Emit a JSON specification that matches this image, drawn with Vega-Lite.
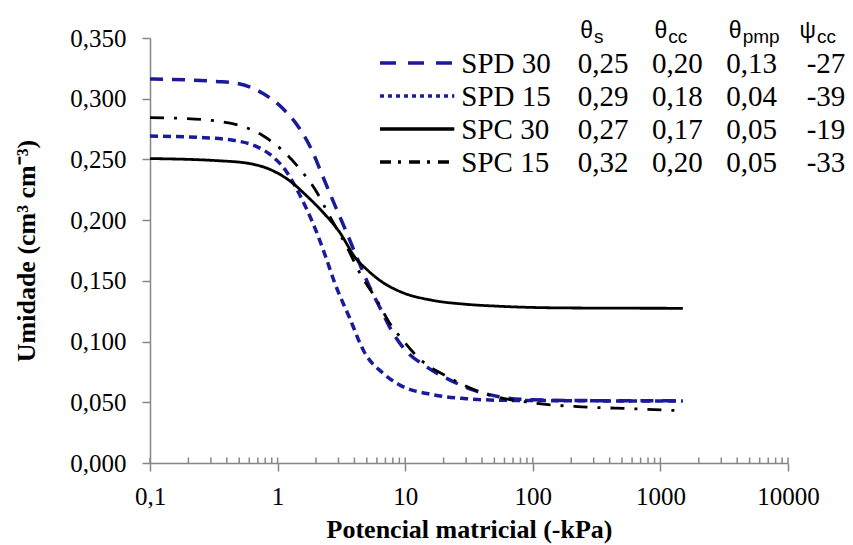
{
  "$schema": "https://vega.github.io/schema/vega-lite/v6.json",
  "width": 638,
  "height": 425,
  "autosize": "none",
  "padding": {"left": 150, "top": 38, "right": 65, "bottom": 82},
  "background": "white",
  "config": {
    "view": {"stroke": null},
    "locale": {"number": {"decimal": ",", "thousands": ".", "grouping": [3], "currency": ["", ""], "minus": "-"}},
    "font": "Liberation Serif"
  },
  "datasets": {
    "curves": [
      {"series": "SPD 30", "x": 0.1, "y": 0.3163},
      {"series": "SPD 30", "x": 0.332, "y": 0.3142},
      {"series": "SPD 30", "x": 0.475, "y": 0.3128},
      {"series": "SPD 30", "x": 0.764, "y": 0.3045},
      {"series": "SPD 30", "x": 1.094, "y": 0.2921},
      {"series": "SPD 30", "x": 1.486, "y": 0.2755},
      {"series": "SPD 30", "x": 1.876, "y": 0.2565},
      {"series": "SPD 30", "x": 2.248, "y": 0.2366},
      {"series": "SPD 30", "x": 2.89, "y": 0.2093},
      {"series": "SPD 30", "x": 3.46, "y": 0.1903},
      {"series": "SPD 30", "x": 4.14, "y": 0.1704},
      {"series": "SPD 30", "x": 5.23, "y": 0.1456},
      {"series": "SPD 30", "x": 6.61, "y": 0.1241},
      {"series": "SPD 30", "x": 7.5, "y": 0.1125},
      {"series": "SPD 30", "x": 9.48, "y": 0.096},
      {"series": "SPD 30", "x": 14.6, "y": 0.0794},
      {"series": "SPD 30", "x": 22.1, "y": 0.0687},
      {"series": "SPD 30", "x": 33.4, "y": 0.0604},
      {"series": "SPD 30", "x": 54.2, "y": 0.0546},
      {"series": "SPD 30", "x": 98.2, "y": 0.0521},
      {"series": "SPD 30", "x": 241, "y": 0.0514},
      {"series": "SPD 30", "x": 593, "y": 0.0513},
      {"series": "SPD 30", "x": 1500, "y": 0.0513},
      {"series": "SPD 15", "x": 0.1, "y": 0.2692},
      {"series": "SPD 15", "x": 0.246, "y": 0.2681},
      {"series": "SPD 15", "x": 0.445, "y": 0.2658},
      {"series": "SPD 15", "x": 0.686, "y": 0.2606},
      {"series": "SPD 15", "x": 0.914, "y": 0.2524},
      {"series": "SPD 15", "x": 1.175, "y": 0.2399},
      {"series": "SPD 15", "x": 1.407, "y": 0.2259},
      {"series": "SPD 15", "x": 1.685, "y": 0.2093},
      {"series": "SPD 15", "x": 2.018, "y": 0.1903},
      {"series": "SPD 15", "x": 2.415, "y": 0.168},
      {"series": "SPD 15", "x": 2.79, "y": 0.1489},
      {"series": "SPD 15", "x": 3.65, "y": 0.12},
      {"series": "SPD 15", "x": 4.8, "y": 0.091},
      {"series": "SPD 15", "x": 6.61, "y": 0.0745},
      {"series": "SPD 15", "x": 8.98, "y": 0.0645},
      {"series": "SPD 15", "x": 16.3, "y": 0.0563},
      {"series": "SPD 15", "x": 30, "y": 0.053},
      {"series": "SPD 15", "x": 54.2, "y": 0.0517},
      {"series": "SPD 15", "x": 181, "y": 0.0513},
      {"series": "SPD 15", "x": 1500, "y": 0.051},
      {"series": "SPC 30", "x": 0.1, "y": 0.2507},
      {"series": "SPC 30", "x": 0.334, "y": 0.249},
      {"series": "SPC 30", "x": 0.604, "y": 0.2466},
      {"series": "SPC 30", "x": 0.914, "y": 0.2408},
      {"series": "SPC 30", "x": 1.241, "y": 0.2325},
      {"series": "SPC 30", "x": 1.685, "y": 0.2201},
      {"series": "SPC 30", "x": 2.248, "y": 0.2069},
      {"series": "SPC 30", "x": 3.05, "y": 0.1903},
      {"series": "SPC 30", "x": 4.14, "y": 0.168},
      {"series": "SPC 30", "x": 4.96, "y": 0.1597},
      {"series": "SPC 30", "x": 6.61, "y": 0.149},
      {"series": "SPC 30", "x": 9.2, "y": 0.141},
      {"series": "SPC 30", "x": 16.3, "y": 0.134},
      {"series": "SPC 30", "x": 30, "y": 0.1307},
      {"series": "SPC 30", "x": 54.2, "y": 0.1291},
      {"series": "SPC 30", "x": 181, "y": 0.1277},
      {"series": "SPC 30", "x": 1500, "y": 0.1274},
      {"series": "SPC 15", "x": 0.1, "y": 0.2844},
      {"series": "SPC 15", "x": 0.181, "y": 0.2838},
      {"series": "SPC 15", "x": 0.334, "y": 0.2816},
      {"series": "SPC 15", "x": 0.533, "y": 0.2772},
      {"series": "SPC 15", "x": 0.764, "y": 0.2697},
      {"series": "SPC 15", "x": 1.094, "y": 0.2573},
      {"series": "SPC 15", "x": 1.486, "y": 0.2424},
      {"series": "SPC 15", "x": 2.018, "y": 0.2234},
      {"series": "SPC 15", "x": 2.55, "y": 0.2035},
      {"series": "SPC 15", "x": 3.46, "y": 0.1787},
      {"series": "SPC 15", "x": 4.37, "y": 0.1572},
      {"series": "SPC 15", "x": 5.93, "y": 0.1349},
      {"series": "SPC 15", "x": 7.5, "y": 0.1158},
      {"series": "SPC 15", "x": 9.48, "y": 0.1018},
      {"series": "SPC 15", "x": 12.4, "y": 0.0877},
      {"series": "SPC 15", "x": 22.1, "y": 0.0703},
      {"series": "SPC 15", "x": 40, "y": 0.0579},
      {"series": "SPC 15", "x": 98.2, "y": 0.0496},
      {"series": "SPC 15", "x": 241, "y": 0.0463},
      {"series": "SPC 15", "x": 593, "y": 0.0447},
      {"series": "SPC 15", "x": 1500, "y": 0.043}
    ],
    "ticks": [
      {"x": 0.1}, {"x": 0.2}, {"x": 0.3}, {"x": 0.4}, {"x": 0.5}, {"x": 0.6}, {"x": 0.7}, {"x": 0.8}, {"x": 0.9},
      {"x": 1}, {"x": 2}, {"x": 3}, {"x": 4}, {"x": 5}, {"x": 6}, {"x": 7}, {"x": 8}, {"x": 9},
      {"x": 10}, {"x": 20}, {"x": 30}, {"x": 40}, {"x": 50}, {"x": 60}, {"x": 70}, {"x": 80}, {"x": 90},
      {"x": 100}, {"x": 200}, {"x": 300}, {"x": 400}, {"x": 500}, {"x": 600}, {"x": 700}, {"x": 800}, {"x": 900},
      {"x": 1000}, {"x": 2000}, {"x": 3000}, {"x": 4000}, {"x": 5000}, {"x": 6000}, {"x": 7000}, {"x": 8000}, {"x": 9000},
      {"x": 10000}
    ],
    "legend": [
      {"series": "SPD 30", "label": "\u2004SPD 30", "ts": 0.25, "tcc": 0.20, "tpmp": 0.13, "pcc": -27},
      {"series": "SPD 15", "label": "SPD 15", "ts": 0.29, "tcc": 0.18, "tpmp": 0.04, "pcc": -39},
      {"series": "SPC 30", "label": "SPC 30", "ts": 0.27, "tcc": 0.17, "tpmp": 0.05, "pcc": -19},
      {"series": "SPC 15", "label": "SPC 15", "ts": 0.32, "tcc": 0.20, "tpmp": 0.05, "pcc": -33}
    ],
    "header": [
      {"col": "ts", "main": "θ", "sub": "s"},
      {"col": "tcc", "main": "θ", "sub": "cc"},
      {"col": "tpmp", "main": "θ", "sub": "pmp"},
      {"col": "pcc", "main": "ψ", "sub": "cc"}
    ]
  },
  "layer": [
    {
      "layer": [
        {
          "data": {"name": "ticks"},
          "mark": {"type": "rule", "color": "#868686", "strokeWidth": 1.5},
          "encoding": {
            "x": {"field": "x", "type": "quantitative", "scale": {"type": "log", "domain": [0.1, 10000], "nice": false},
              "axis": {"values": [0.1, 1, 10, 100, 1000, 10000], "labelExpr": "replace(toString(datum.value), '.', ',')",
                "title": "Potencial matricial (-kPa)", "grid": false, "domainColor": "#868686", "domainWidth": 1.5,
                "tickColor": "#868686", "tickWidth": 1.5, "tickSize": 8, "labelFont": "Liberation Serif", "labelFontSize": 25,
                "labelColor": "#000000", "labelPadding": 13, "labelFlush": false, "labelOverlap": false,
                "titleFont": "Liberation Serif", "titleFontSize": 26, "titleFontWeight": "bold", "titleColor": "#000000", "titlePadding": 7}},
            "y": {"datum": 0, "type": "quantitative", "scale": {"domain": [0, 0.35], "nice": false}},
            "y2": {"datum": 0.0045}
          }
        },
        {
          "data": {"name": "curves"},
          "transform": [{"filter": "indexof(datum.series, 'SPD') == 0"}],
          "mark": {"type": "line", "interpolate": "monotone", "strokeWidth": 3.5},
          "encoding": {
            "x": {"field": "x", "type": "quantitative"},
            "y": {"field": "y", "type": "quantitative",
              "axis": {"values": [0, 0.05, 0.1, 0.15, 0.2, 0.25, 0.3, 0.35], "labelExpr": "replace(format(datum.value, '.3f'), '.', ',')",
                "title": "Umidade (cm³ cm⁻³)", "grid": false, "domainColor": "#868686", "domainWidth": 1.5,
                "tickColor": "#868686", "tickWidth": 1.5, "tickSize": 8, "labelFont": "Liberation Serif", "labelFontSize": 25,
                "labelColor": "#000000", "labelPadding": 16, "labelFlush": false, "labelOverlap": false,
                "titleFont": "Liberation Serif", "titleFontSize": 26, "titleFontWeight": "bold", "titleColor": "#000000", "titlePadding": 30}},
            "color": {"field": "series", "type": "nominal", "scale": {"domain": ["SPD 30", "SPD 15", "SPC 30", "SPC 15"], "range": ["#1a1a9b", "#1a1a9b", "#000000", "#000000"]}, "legend": null},
            "strokeDash": {"field": "series", "type": "nominal", "scale": {"domain": ["SPD 30", "SPD 15", "SPC 30", "SPC 15"], "range": [[13, 9], [8, 5], [1, 0], [14, 10, 3, 10]]}, "legend": null}
          }
        },
        {
          "data": {"name": "curves"},
          "transform": [{"filter": "indexof(datum.series, 'SPC') == 0"}],
          "mark": {"type": "line", "interpolate": "monotone", "strokeWidth": 2.8},
          "encoding": {
            "x": {"field": "x", "type": "quantitative"},
            "y": {"field": "y", "type": "quantitative"},
            "color": {"field": "series", "type": "nominal", "legend": null},
            "strokeDash": {"field": "series", "type": "nominal", "legend": null}
          }
        }
      ]
    },
    {
      "layer": [
        {
          "data": {"name": "legend"},
          "mark": {"type": "rule", "strokeWidth": 3.5},
          "encoding": {
            "x": {"datum": "l0", "type": "nominal", "scale": {"type": "point", "padding": 0, "domain": ["l0", "l1", "lab", "ts", "tcc", "tpmp", "pcc"], "range": [230, 676]}, "axis": null},
            "x2": {"datum": "l1"},
            "y": {"field": "series", "type": "nominal", "scale": {"type": "point", "padding": 0, "domain": ["header", "SPD 30", "SPD 15", "SPC 30", "SPC 15"], "range": [-8, 124]}, "axis": null},
            "color": {"field": "series", "type": "nominal", "scale": {"domain": ["SPD 30", "SPD 15", "SPC 30", "SPC 15"], "range": ["#1a1a9b", "#1a1a9b", "#000000", "#000000"]}, "legend": null},
            "strokeDash": {"field": "series", "type": "nominal", "scale": {"domain": ["SPD 30", "SPD 15", "SPC 30", "SPC 15"], "range": [[16, 12], [4, 4], [1, 0], [11, 7, 3, 8]]}, "legend": null}
          }
        },
        {
          "data": {"name": "legend"},
          "mark": {"type": "text", "align": "left", "baseline": "middle", "dx": 7, "dy": 1, "font": "Liberation Serif", "fontSize": 29, "color": "#000000"},
          "encoding": {
            "x": {"datum": "l1", "type": "nominal"},
            "y": {"field": "series", "type": "nominal"},
            "text": {"field": "label"}
          }
        },
        {
          "data": {"name": "legend"},
          "transform": [{"fold": ["ts", "tcc", "tpmp"], "as": ["col", "val"]}],
          "mark": {"type": "text", "align": "center", "baseline": "middle", "dy": 1, "font": "Liberation Serif", "fontSize": 29, "color": "#000000"},
          "encoding": {
            "x": {"field": "col", "type": "nominal"},
            "y": {"field": "series", "type": "nominal"},
            "text": {"field": "val", "type": "quantitative", "format": ".2f"}
          }
        },
        {
          "data": {"name": "legend"},
          "mark": {"type": "text", "align": "center", "baseline": "middle", "dy": 1, "font": "Liberation Serif", "fontSize": 29, "color": "#000000"},
          "encoding": {
            "x": {"datum": "pcc", "type": "nominal"},
            "y": {"field": "series", "type": "nominal"},
            "text": {"field": "pcc", "type": "quantitative", "format": "d"}
          }
        },
        {
          "data": {"name": "header"},
          "mark": {"type": "text", "align": "right", "baseline": "alphabetic", "dx": -10, "dy": 8, "font": "Liberation Sans", "fontSize": 23, "color": "#000000"},
          "encoding": {
            "x": {"field": "col", "type": "nominal"},
            "y": {"datum": "header", "type": "nominal"},
            "text": {"field": "main"}
          }
        },
        {
          "data": {"name": "header"},
          "mark": {"type": "text", "align": "left", "baseline": "alphabetic", "dx": -9, "dy": 13, "font": "Liberation Sans", "fontSize": 19, "color": "#000000"},
          "encoding": {
            "x": {"field": "col", "type": "nominal"},
            "y": {"datum": "header", "type": "nominal"},
            "text": {"field": "sub"}
          }
        }
      ]
    }
  ],
  "resolve": {"scale": {"x": "independent", "y": "independent", "color": "independent", "strokeDash": "independent"}}
}
